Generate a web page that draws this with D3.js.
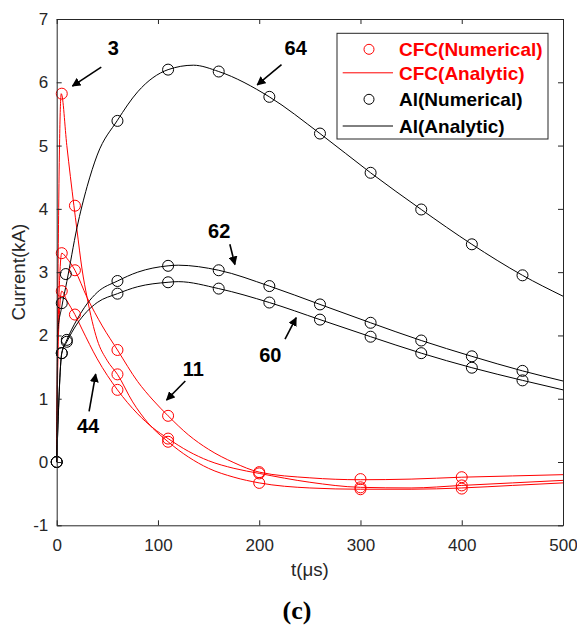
<!DOCTYPE html>
<html>
<head>
  <meta charset="utf-8">
  <title>Current vs time</title>
  <style>
  body {
    margin: 0;
    background: #fff;
    font-family: "Liberation Sans", Arial, sans-serif;
  }
  </style>
</head>
<body>
  <div id="viz"></div>

  <script src="https://d3js.org/d3.v7.min.js"></script>
  <script>
    // axis ticks
    let xTicks = [0, 100, 200, 300, 400, 500];
    let yTicks = [-1, 0, 1, 2, 3, 4, 5, 6, 7];

    // CFC numerical points [t, kA]
    let cfc3Num = [[5, 5.82], [18, 4.05], [60, 1.385], [110, 0.32], [200, -0.33], [300, -0.43], [400, -0.42]];
    let cfc11Num = [[5, 3.3], [18, 3.03], [60, 1.77], [110, 0.73], [200, -0.16], [300, -0.27], [400, -0.24]];
    let cfc44Num = [[5, 2.7], [18, 2.33], [60, 1.14], [110, 0.37], [200, -0.18], [300, -0.40], [400, -0.37]];

    // CFC analytic curves
    let cfc3Ana = [[0, 0], [1.5, 3.3], [4.5, 5.82], [10, 5.0], [17, 4.05], [20, 3.67], [25, 3.05], [30, 2.6], [40, 1.93],
      [50, 1.6], [60, 1.385], [75, 0.95], [90, 0.62], [110, 0.32], [130, 0.08], [150, -0.1], [175, -0.24], [200, -0.33],
      [250, -0.41], [300, -0.43], [350, -0.43], [400, -0.41], [450, -0.37], [500, -0.33]];
    let cfc11Ana = [[0, 0], [1.5, 2.2], [5, 3.3], [10, 3.22], [18, 3.03], [30, 2.6], [45, 2.15], [60, 1.77], [80, 1.27],
      [95, 0.98], [110, 0.73], [130, 0.43], [150, 0.2], [175, -0.01], [200, -0.16], [250, -0.25], [300, -0.28],
      [350, -0.27], [400, -0.24], [450, -0.22], [500, -0.2]];
    let cfc44Ana = [[0, 0], [1.5, 1.9], [5, 2.7], [10, 2.55], [18, 2.33], [25, 2.1], [40, 1.63], [60, 1.14], [80, 0.76],
      [95, 0.54], [110, 0.37], [130, 0.17], [150, 0.02], [175, -0.1], [200, -0.18], [250, -0.32], [300, -0.40],
      [350, -0.41], [400, -0.37], [450, -0.33], [500, -0.29]];

    // Al numerical points
    let al64Num = [[0, 0], [5, 2.51], [9, 2.97], [60, 5.39], [110, 6.2], [160, 6.17], [210, 5.77], [260, 5.19],
      [310, 4.57], [360, 3.99], [410, 3.44], [460, 2.95]];
    let al62Num = [[0, 0], [5, 1.72], [10, 1.93], [60, 2.86], [110, 3.10], [160, 3.03], [210, 2.78], [260, 2.49],
      [310, 2.20], [360, 1.92], [410, 1.67], [460, 1.44]];
    let al60Num = [[0, 0], [5, 1.72], [10, 1.90], [60, 2.66], [110, 2.84], [160, 2.74], [210, 2.52], [260, 2.25],
      [310, 1.98], [360, 1.72], [410, 1.49], [460, 1.29]];

    // Al analytic curves
    let al64Ana = [[0, 0], [1, 2.05], [5, 2.45], [10, 2.85], [20, 3.7], [30, 4.35], [40, 4.85], [60, 5.4], [80, 5.85],
      [110, 6.2], [135, 6.27], [160, 6.17], [210, 5.77], [260, 5.19], [310, 4.57], [360, 3.99], [410, 3.44],
      [460, 2.95], [500, 2.62]];
    let al62Ana = [[0, 0], [5, 1.72], [10, 1.93], [15, 2.1], [20, 2.25], [30, 2.5], [40, 2.68], [60, 2.86], [80, 3.0],
      [110, 3.10], [120, 3.11], [160, 3.03], [210, 2.78], [260, 2.49], [310, 2.20], [360, 1.92], [410, 1.67],
      [460, 1.44], [500, 1.28]];
    let al60Ana = [[0, 0], [5, 1.72], [10, 1.90], [15, 2.05], [20, 2.18], [30, 2.38], [40, 2.52], [60, 2.66], [80, 2.77],
      [110, 2.84], [120, 2.85], [160, 2.74], [210, 2.52], [260, 2.25], [310, 1.98], [360, 1.72], [410, 1.49],
      [460, 1.29], [500, 1.14]];

    // annotations: label, text position and arrow [t, kA] from -> to
    let notes = [
      {label: "3", at: [56, 6.55], from: [44, 6.24], to: [15.5, 5.94]},
      {label: "64", at: [236, 6.55], from: [222, 6.28], to: [198, 5.96]},
      {label: "62", at: [160.5, 3.66], from: [171, 3.44], to: [176, 3.12]},
      {label: "60", at: [211, 1.70], from: [225.5, 1.94], to: [236.5, 2.28]},
      {label: "11", at: [135, 1.47], from: [127, 1.28], to: [108.5, 0.98]},
      {label: "44", at: [31, 0.58], from: [32, 0.80], to: [38.5, 1.39]}
    ];

    let legendItems = ["CFC(Numerical)", "CFC(Analytic)", "Al(Numerical)", "Al(Analytic)"];

    // svg
    let svgWidth = 577;
    let svgHeight = 625;
    let margin = {"top": 19, "right": 14, "bottom": 99.7, "left": 56.7};
    let width = svgWidth - margin.left - margin.right;
    let height = svgHeight - margin.top - margin.bottom;
    let axisColor = "#262626";

    let svg = d3.select("#viz")
      .append("svg")
      .attr("width", svgWidth)
      .attr("height", svgHeight);

    let g = svg.append("g")
      .attr("transform", `translate(${margin.left},${margin.top})`);

    // scales
    let x_scale = d3.scaleLinear().domain([0, 500]).range([0, width]);
    let y_scale = d3.scaleLinear().domain([-1, 7]).range([height, 0]);

    let line = d3.line()
      .x(d => x_scale(d[0]))
      .y(d => y_scale(d[1]))
      .curve(d3.curveMonotoneX);

    // analytic lines
    let lines = g.append("g");
    [[cfc3Ana, "red"], [cfc11Ana, "red"], [cfc44Ana, "red"], [al64Ana, "black"], [al62Ana, "black"], [al60Ana, "black"]]
      .forEach(([data, color]) => {
        lines.append("path")
          .attr("d", line(data))
          .attr("fill", "none")
          .attr("stroke", color)
          .attr("stroke-width", 1);
      });

    // numerical markers
    let marks = g.append("g");
    [[cfc3Num, "red"], [cfc11Num, "red"], [cfc44Num, "red"], [al64Num, "black"], [al62Num, "black"], [al60Num, "black"]]
      .forEach(([data, color]) => {
        marks.selectAll(null)
          .data(data)
          .enter()
          .append("circle")
          .attr("cx", d => x_scale(d[0]))
          .attr("cy", d => y_scale(d[1]))
          .attr("r", 5.5)
          .attr("fill", "none")
          .attr("stroke", color)
          .attr("stroke-width", 1);
      });

    // axes, ticks inward like matlab, plain hyphen for negatives
    let fmt = d => String(d);
    let gX = g.append("g")
      .attr("transform", `translate(0,${height})`)
      .call(d3.axisBottom(x_scale).tickValues(xTicks).tickSize(-5).tickSizeOuter(0).tickPadding(13.5).tickFormat(fmt));
    let gY = g.append("g")
      .call(d3.axisLeft(y_scale).tickValues(yTicks).tickSize(-5).tickSizeOuter(0).tickPadding(8.4).tickFormat(fmt));
    let gTop = g.append("g")
      .call(d3.axisTop(x_scale).tickValues(xTicks).tickSize(-5).tickSizeOuter(0).tickFormat(""));
    let gRight = g.append("g")
      .attr("transform", `translate(${width},0)`)
      .call(d3.axisRight(y_scale).tickValues(yTicks).tickSize(-5).tickSizeOuter(0).tickFormat(""));

    [gX, gY, gTop, gRight].forEach(a => {
      a.selectAll("path, line").attr("stroke", axisColor).attr("stroke-width", 1);
      a.selectAll("text")
        .attr("fill", axisColor)
        .style("font-family", "'Liberation Sans', Arial, sans-serif")
        .style("font-size", "17px");
    });

    // axis titles
    svg.append("text")
      .attr("x", margin.left + width / 2)
      .attr("y", 576)
      .attr("text-anchor", "middle")
      .attr("fill", axisColor)
      .style("font-size", "18.7px")
      .text("t(μs)");

    svg.append("text")
      .attr("transform", `translate(24.5,${margin.top + height / 2}) rotate(-90)`)
      .attr("text-anchor", "middle")
      .attr("fill", axisColor)
      .style("font-size", "18.7px")
      .text("Current(kA)");

    svg.append("text")
      .attr("x", 297)
      .attr("y", 619)
      .attr("text-anchor", "middle")
      .attr("fill", "black")
      .style("font-family", "'Liberation Serif', 'Times New Roman', serif")
      .style("font-weight", "bold")
      .style("font-size", "26px")
      .text("(c)");

    // arrows
    svg.append("defs").append("marker")
      .attr("id", "head")
      .attr("viewBox", "0 0 10 10")
      .attr("refX", 9)
      .attr("refY", 5)
      .attr("markerWidth", 9)
      .attr("markerHeight", 9)
      .attr("markerUnits", "userSpaceOnUse")
      .attr("orient", "auto")
      .append("path")
      .attr("d", "M0,0 L10,5 L0,10 z")
      .attr("fill", "black");

    let ann = g.append("g");
    notes.forEach(n => {
      ann.append("line")
        .attr("x1", x_scale(n.from[0]))
        .attr("y1", y_scale(n.from[1]))
        .attr("x2", x_scale(n.to[0]))
        .attr("y2", y_scale(n.to[1]))
        .attr("stroke", "black")
        .attr("stroke-width", 1.6)
        .attr("marker-end", "url(#head)");
      ann.append("text")
        .attr("x", x_scale(n.at[0]))
        .attr("y", y_scale(n.at[1]))
        .attr("dy", "0.36em")
        .attr("text-anchor", "middle")
        .style("font-weight", "bold")
        .style("font-size", "20px")
        .text(n.label);
    });

    // legend
    let legend = svg.append("g").attr("transform", "translate(337,33.3)");
    legend.append("rect")
      .attr("width", 211)
      .attr("height", 105.7)
      .attr("fill", "white")
      .attr("stroke", axisColor)
      .attr("stroke-width", 1);

    let rowY = [16, 39.5, 66, 92.7];
    legendItems.forEach((label, i) => {
      let color = i < 2 ? "red" : "black";
      if (i % 2 === 0) {
        legend.append("circle")
          .attr("cx", 32)
          .attr("cy", rowY[i])
          .attr("r", 5)
          .attr("fill", "none")
          .attr("stroke", color);
      } else {
        legend.append("line")
          .attr("x1", 5.7)
          .attr("x2", 56)
          .attr("y1", rowY[i])
          .attr("y2", rowY[i])
          .attr("stroke", color);
      }
      legend.append("text")
        .attr("x", 62)
        .attr("y", rowY[i])
        .attr("dy", "0.36em")
        .attr("fill", color)
        .style("font-weight", "bold")
        .style("font-size", "19px")
        .text(label);
    });
  </script>
</body>
</html>
